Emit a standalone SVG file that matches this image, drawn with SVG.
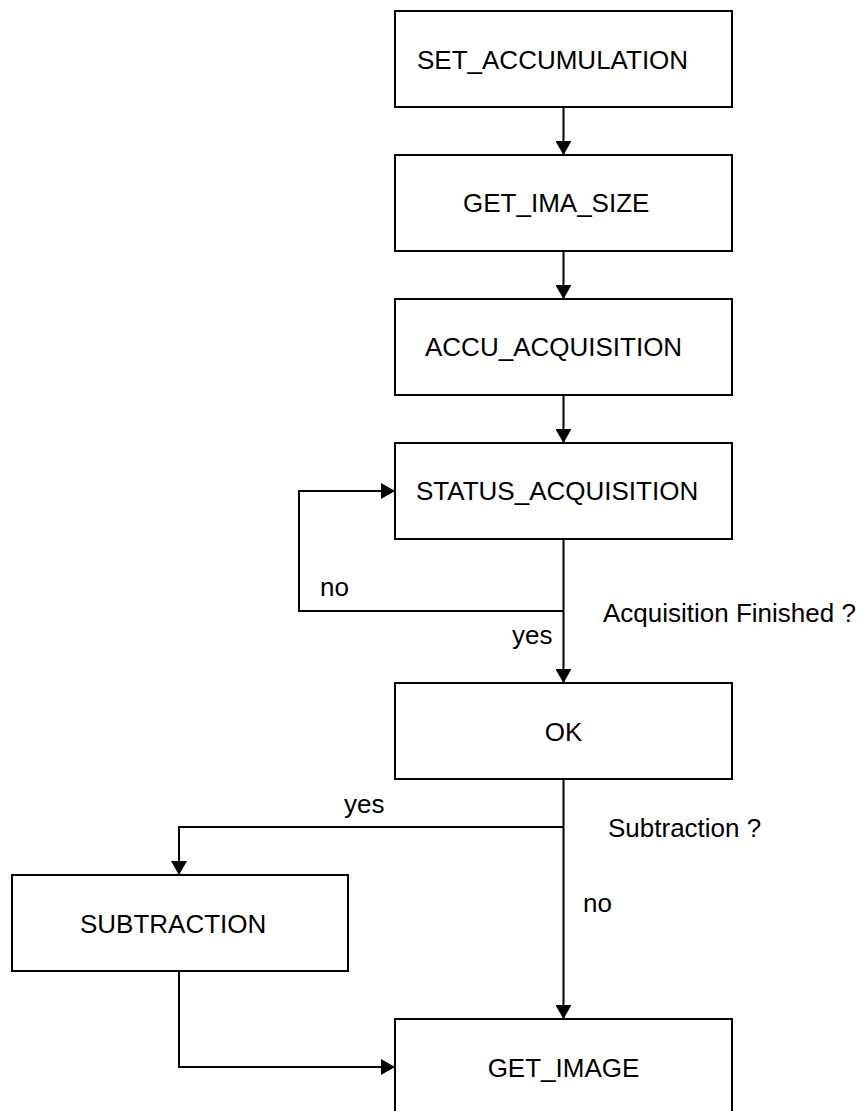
<svg xmlns="http://www.w3.org/2000/svg" width="867" height="1111" viewBox="0 0 867 1111">
<style>
.box{fill:#fff;stroke:#000;stroke-width:2}
.t{font-family:"Liberation Sans",Arial,sans-serif;font-size:26px;fill:#000}
.c{fill:none;stroke:#000;stroke-width:2}
</style>
<defs>
<marker id="arr" markerUnits="userSpaceOnUse" markerWidth="16" markerHeight="16" viewBox="0 0 14 16" refX="14" refY="8" orient="auto">
<path d="M0,0 L14,8 L0,16 Z" fill="#000"/>
</marker>
</defs>
<rect width="867" height="1111" fill="#fff"/>
<g id="connectors">
<line class="c" x1="563.5" y1="107" x2="563.5" y2="155" marker-end="url(#arr)"/>
<line class="c" x1="563.5" y1="251" x2="563.5" y2="299" marker-end="url(#arr)"/>
<line class="c" x1="563.5" y1="395" x2="563.5" y2="443" marker-end="url(#arr)"/>
<line class="c" x1="563.5" y1="539" x2="563.5" y2="683" marker-end="url(#arr)"/>
<polyline class="c" points="563.5,611 299,611 299,491 395,491" marker-end="url(#arr)"/>
<line class="c" x1="563.5" y1="779" x2="563.5" y2="1019" marker-end="url(#arr)"/>
<polyline class="c" points="563.5,827 179,827 179,875" marker-end="url(#arr)"/>
<polyline class="c" points="179,971 179,1067 395,1067" marker-end="url(#arr)"/>
<text class="t" x="320" y="596">no</text>
<text class="t" x="512" y="644">yes</text>
<text class="t" x="603" y="622">Acquisition Finished ?</text>
<text class="t" x="344" y="813">yes</text>
<text class="t" x="608" y="837">Subtraction ?</text>
<text class="t" x="583" y="912">no</text>
</g>
<g id="n1"><rect class="box" x="395" y="11" width="337" height="96"/><text class="t" x="417" y="69">SET_ACCUMULATION</text></g>
<g id="n2"><rect class="box" x="395" y="155" width="337" height="96"/><text class="t" x="463" y="212">GET_IMA_SIZE</text></g>
<g id="n3"><rect class="box" x="395" y="299" width="337" height="96"/><text class="t" x="425" y="356">ACCU_ACQUISITION</text></g>
<g id="n4"><rect class="box" x="395" y="443" width="337" height="96"/><text class="t" x="416" y="500">STATUS_ACQUISITION</text></g>
<g id="n5"><rect class="box" x="395" y="683" width="337" height="96"/><text class="t" x="563.5" y="741" text-anchor="middle">OK</text></g>
<g id="n6"><rect class="box" x="12" y="875" width="336" height="96"/><text class="t" x="80" y="933">SUBTRACTION</text></g>
<g id="n7"><rect class="box" x="395" y="1019" width="337" height="110"/><text class="t" x="563.5" y="1077" text-anchor="middle">GET_IMAGE</text></g>
</svg>
